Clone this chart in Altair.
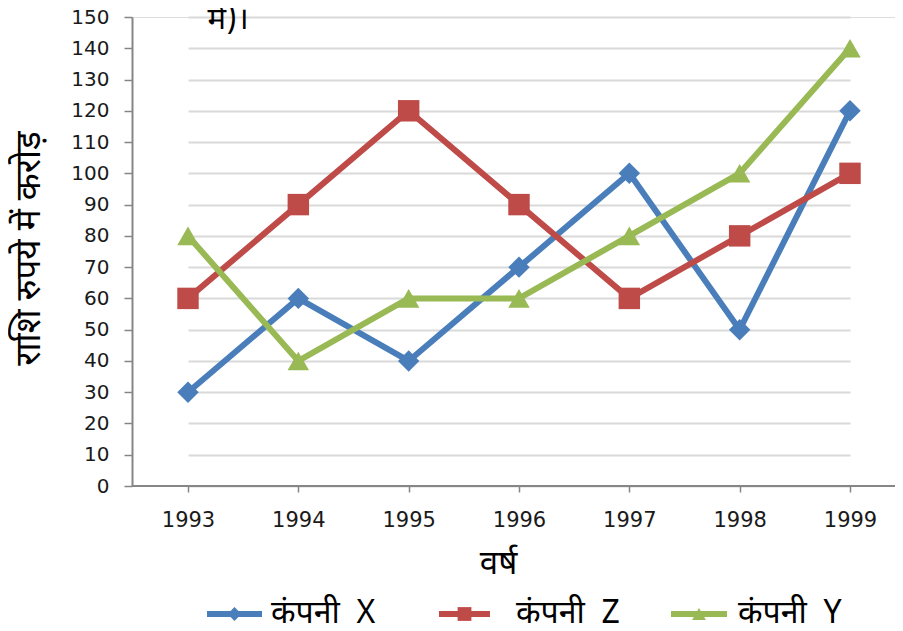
import altair as alt
import pandas as pd

years = ["1993", "1994", "1995", "1996", "1997", "1998", "1999"]
series_names = ["कंपनी X", "कंपनी Z", "कंपनी Y"]
company_x = [30, 60, 40, 70, 100, 50, 120]
company_z = [60, 90, 120, 90, 60, 80, 100]
company_y = [80, 40, 60, 60, 80, 100, 140]
colors = ["#4A7EBB", "#BE4B48", "#98B954"]
shapes = ["diamond", "square", "triangle-up"]
y_ticks = list(range(0, 151, 10))
title_text = "में)।"
y_title = "राशि रुपये में करोड़"
x_title = "वर्ष"

rows = []
for name, vals in zip(series_names, [company_x, company_z, company_y]):
    for yr, v in zip(years, vals):
        rows.append({"year": yr, "company": name, "value": v})
df = pd.DataFrame(rows)

NUM_FONT = "DejaVu Sans"
HI_FONT = "'Noto Sans Devanagari', 'Noto Sans', sans-serif"

x_enc = alt.X(
    "year:O",
    scale=alt.Scale(type="point", domain=years, range=[56, 718], padding=0),
    axis=alt.Axis(
        title=x_title, domain=False, grid=False, labelAngle=0,
        labelFont=NUM_FONT, labelFontSize=21, labelColor="#1a1a1a",
        labelPadding=17, tickSize=6, tickColor="#868686", tickWidth=1.5,
        titleFont=HI_FONT, titleFontSize=33, titleFontWeight="normal",
        titleColor="black", titleBaseline="middle", titleX=366, titleY=77,
    ),
)
y_enc = alt.Y(
    "value:Q",
    scale=alt.Scale(domain=[0, 150], nice=False),
    axis=alt.Axis(
        title=y_title, values=y_ticks, grid=True, gridColor="#d9d9d9", gridWidth=2,
        domainColor="#868686", domainWidth=2, tickColor="#868686", tickSize=8,
        tickWidth=1.5, labelFont=NUM_FONT, labelFontSize=20, labelColor="#1a1a1a",
        labelPadding=15, labelOverlap=False, labelBound=False,
        titleFont=HI_FONT, titleFontSize=35, titleFontWeight="normal",
        titleColor="black", titleAngle=270, titleBaseline="middle", titleAlign="center",
        titleX=-104, titleY=231,
    ),
)
color_enc = alt.Color(
    "company:N", scale=alt.Scale(domain=series_names, range=colors), legend=None
)

base = alt.Chart(df)
lines = base.mark_line(strokeWidth=6, strokeJoin="round").encode(
    x=x_enc, y=y_enc, color=color_enc, detail="company:N"
)
points = base.mark_point(filled=True, opacity=1, size=460).encode(
    x=x_enc, y=y_enc, color=color_enc,
    shape=alt.Shape("company:N", scale=alt.Scale(domain=series_names, range=shapes), legend=None),
)
baseline = alt.Chart(pd.DataFrame({"value": [0]})).mark_rule(color="#868686", strokeWidth=2).encode(
    y=y_enc
)
title_mark = alt.Chart(pd.DataFrame({"t": [title_text]})).mark_text(
    font=HI_FONT, fontSize=31, color="black", baseline="alphabetic", align="center"
).encode(text="t:N", x=alt.value(96), y=alt.value(12))

# manual legend (layout positions relative to the plot origin)
LEG_Y = 597
leg_line_x = [(75, 130), (307, 358), (539, 595)]
leg_label_x = [139, 384, 606]
legend_layers = []
for i, name in enumerate(series_names):
    ld = pd.DataFrame({"company": [name.replace(" ", "\u00a0\u00a0")]})
    x0, x1 = leg_line_x[i]
    legend_layers.append(
        alt.Chart(ld).mark_rule(strokeWidth=6, color=colors[i]).encode(
            x=alt.value(x0), x2=alt.value(x1), y=alt.value(LEG_Y)
        )
    )
    legend_layers.append(
        alt.Chart(ld).mark_point(filled=True, opacity=1, size=190, shape=shapes[i], color=colors[i]).encode(
            x=alt.value((x0 + x1) / 2), y=alt.value(LEG_Y)
        )
    )
    legend_layers.append(
        alt.Chart(ld).mark_text(font=HI_FONT, fontSize=32, color="black", align="left", baseline="middle").encode(
            text="company:N", x=alt.value(leg_label_x[i]), y=alt.value(LEG_Y - 1)
        )
    )

chart = alt.layer(baseline, lines, points, title_mark, *legend_layers).properties(
    width=763, height=469, autosize="none",
    padding={"left": 124, "top": 9, "right": 0, "bottom": 137},
).configure_view(stroke=None).configure(background="white")

chart.save("out.html", embed_options={"renderer": "svg", "actions": False})
